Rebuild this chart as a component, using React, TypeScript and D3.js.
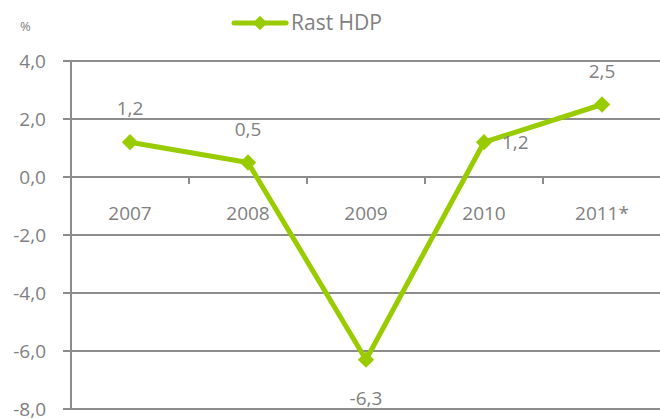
import { useEffect, useRef } from "react"
import * as d3 from "d3"

const years = ["2007", "2008", "2009", "2010", "2011*"]
const growth = [1.2, 0.5, -6.3, 1.2, 2.5]
const yTicks = [4, 2, 0, -2, -4, -6, -8]
// kde je popisek hodnoty
const labelPos = ["top", "top", "bottom", "right", "top"]

const fmt = (v: number) => v.toFixed(1).replace(".", ",")

export default function App() {
  const svgRef = useRef<SVGSVGElement>(null)

  useEffect(() => {
    if (!svgRef.current) return
    const svg = d3.select(svgRef.current)
    svg.selectAll("*").remove()

    const width = 660
    const height = 419
    const grey = "#8c8c8c"
    const textGrey = "#808080"
    const green = "#99cc00"
    const font = "'Open Sans', sans-serif"

    const x = d3.scaleBand().domain(years).range([71, 661])
    const y = d3.scaleLinear().domain([-8, 4]).range([409, 61])

    // mřížka
    svg
      .append("g")
      .selectAll("line")
      .data(yTicks)
      .enter()
      .append("line")
      .attr("x1", 63)
      .attr("x2", width)
      .attr("y1", (d) => y(d))
      .attr("y2", (d) => y(d))
      .attr("stroke", grey)
      .attr("stroke-width", 2)

    // osa y
    svg
      .append("line")
      .attr("x1", 71)
      .attr("x2", 71)
      .attr("y1", y(4))
      .attr("y2", y(-8))
      .attr("stroke", grey)
      .attr("stroke-width", 2)

    svg
      .append("g")
      .selectAll("text")
      .data(yTicks)
      .enter()
      .append("text")
      .attr("x", 46)
      .attr("y", (d) => y(d))
      .attr("dy", "0.35em")
      .attr("text-anchor", "end")
      .attr("font-family", font)
      .attr("font-size", 19)
      .attr("fill", textGrey)
      .text((d) => fmt(d))

    // osa x na nule
    svg
      .append("g")
      .selectAll("line")
      .data(years.slice(1))
      .enter()
      .append("line")
      .attr("x1", (d) => x(d)!)
      .attr("x2", (d) => x(d)!)
      .attr("y1", y(0))
      .attr("y2", y(0) + 7)
      .attr("stroke", grey)
      .attr("stroke-width", 2)

    svg
      .append("g")
      .selectAll("text")
      .data(years)
      .enter()
      .append("text")
      .attr("x", (d) => x(d)! + x.bandwidth() / 2)
      .attr("y", y(0) + 43)
      .attr("text-anchor", "middle")
      .attr("font-family", font)
      .attr("font-size", 19)
      .attr("fill", textGrey)
      .text((d) => d)

    const cx = (i: number) => x(years[i])! + x.bandwidth() / 2

    const line = d3
      .line<number>()
      .x((d, i) => cx(i))
      .y((d) => y(d))

    svg
      .append("path")
      .datum(growth)
      .attr("d", line)
      .attr("fill", "none")
      .attr("stroke", green)
      .attr("stroke-width", 5)
      .attr("stroke-linejoin", "round")

    const diamond = d3.symbol().type(d3.symbolDiamond2).size(170)

    svg
      .append("g")
      .selectAll("path")
      .data(growth)
      .enter()
      .append("path")
      .attr("d", diamond)
      .attr("transform", (d, i) => `translate(${cx(i)},${y(d)})`)
      .attr("fill", green)

    // popisky hodnot
    svg
      .append("g")
      .selectAll("text")
      .data(growth)
      .enter()
      .append("text")
      .attr("x", (d, i) => (labelPos[i] === "right" ? cx(i) + 18 : cx(i)))
      .attr("y", (d, i) =>
        labelPos[i] === "top" ? y(d) - 27 : labelPos[i] === "bottom" ? y(d) + 45 : y(d) + 7
      )
      .attr("text-anchor", (d, i) => (labelPos[i] === "right" ? "start" : "middle"))
      .attr("font-family", font)
      .attr("font-size", 19)
      .attr("fill", textGrey)
      .text((d) => fmt(d))

    // legenda
    const lg = svg.append("g")
    lg.append("line")
      .attr("x1", 234)
      .attr("x2", 286)
      .attr("y1", 23)
      .attr("y2", 23)
      .attr("stroke", green)
      .attr("stroke-width", 5)
      .attr("stroke-linecap", "round")
    lg.append("path")
      .attr("d", d3.symbol().type(d3.symbolDiamond2).size(130)())
      .attr("transform", "translate(260,23)")
      .attr("fill", green)
    lg.append("text")
      .attr("x", 291)
      .attr("y", 30)
      .attr("font-family", font)
      .attr("font-size", 21)
      .attr("fill", textGrey)
      .text("Rast HDP")

    svg
      .append("text")
      .attr("x", 20)
      .attr("y", 31)
      .attr("font-family", font)
      .attr("font-size", 13)
      .attr("fill", textGrey)
      .text("%")

    svg.attr("width", width).attr("height", height)
  }, [])

  return (
    <div style={{ position: "absolute", left: 0, top: 0 }}>
      <svg ref={svgRef} style={{ display: "block" }}></svg>
    </div>
  )
}
